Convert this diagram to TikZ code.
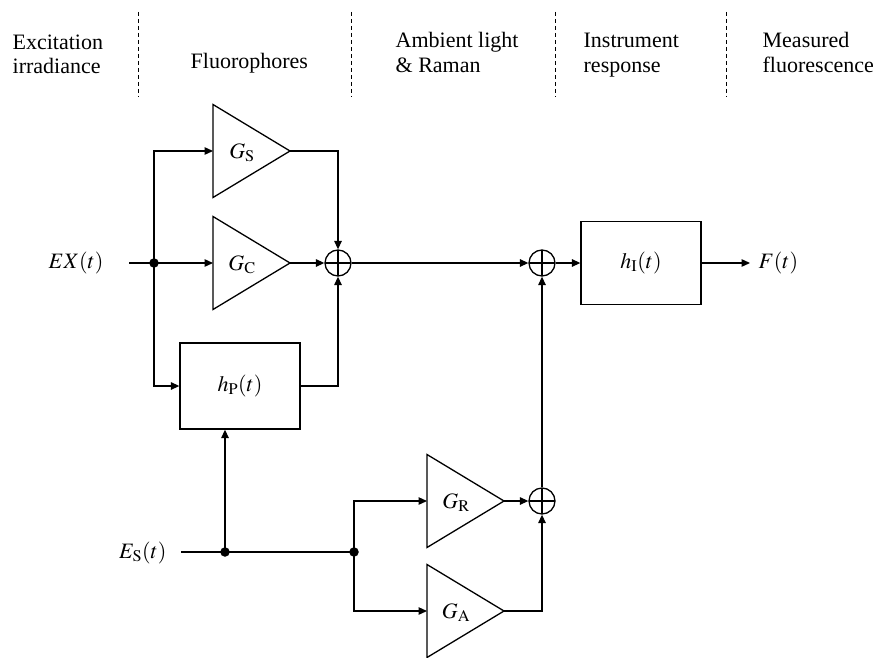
\documentclass[tikz,border=0pt]{standalone}
\usepackage{mathptmx}
\usepackage{fontspec}
\setmainfont{Liberation Serif}
\usetikzlibrary{arrows.meta,calc}
\newcommand{\gainblk}[4]{%
  \coordinate (#1in) at (#2,#3);
  \coordinate (#1out) at ($(#1in)+(77,0)$);
  \draw ($(#1in)+(0,-46.5)$) -- (#1out) -- ($(#1in)+(0,46.5)$) -- cycle;
  \node[lbl,anchor=base] (#1lab) at ($(#1in)+(29,7)$) {#4};
}
\begin{document}
\begin{tikzpicture}[x=1pt,y=-1pt,line width=1.3pt,
  >={Triangle[length=8.5pt,width=7.5pt]},
  font=\fontsize{22}{25}\selectfont,
  sumj/.style={circle,draw,minimum size=26pt,inner sep=0pt,
    path picture={\draw (path picture bounding box.north) -- (path picture bounding box.south)
      (path picture bounding box.west) -- (path picture bounding box.east);}},
  blk/.style={draw,minimum width=120pt,minimum height=85pt,inner sep=0pt},
  jdot/.style={circle,fill,inner sep=0pt,minimum size=9.5pt},
  lbl/.style={inner sep=0pt},
  hdr/.style={inner sep=0pt,anchor=base west},
  divider/.style={line width=0.9pt,dash pattern=on 4pt off 3pt}]
\useasboundingbox (0,0) rectangle (875,658);

% header
\draw[divider] (138,12) -- (138,97);
\draw[divider] (351,12) -- (351,97);
\draw[divider] (555,12) -- (555,97);
\draw[divider] (726,12) -- (726,97);
\node[hdr] (h1a) at (12,50) {Excitation};
\node[hdr] (h1b) at (12,74) {irradiance};
\node[hdr] (h2) at (190,69) {Fluorophores};
\node[hdr] (h3a) at (395,48) {Ambient light};
\node[hdr] (h3b) at (395,73) {\& Raman};
\node[hdr] (h4a) at (583,48) {Instrument};
\node[hdr] (h4b) at (583,73) {response};
\node[hdr] (h5a) at (762,48) {Measured};
\node[hdr] (h5b) at (762,73) {fluorescence};

% gain blocks
\gainblk{GS}{213}{151}{$G_{\mathrm{S}}$}
\gainblk{GC}{213}{263}{$G_{\mathrm{C}}$}
\gainblk{GR}{427}{501}{$G_{\mathrm{R}}$}
\gainblk{GA}{427}{611}{$G_{\mathrm{A}}$}

% summing junctions
\node[sumj] (S1) at (338,263) {};
\node[sumj] (S2) at (542,263) {};
\node[sumj] (S3) at (542,501) {};

% blocks
\node[blk,minimum height=86pt] (hP) at (240,386) {$h_{\mathrm{P}}(t)$};
\node[blk,minimum height=83pt] (hI) at (641,263) {$h_{\mathrm{I}}(t)$};

% inputs / outputs
\node[lbl,anchor=east] (EX) at (104,263) {$EX(t)$};
\coordinate (EXa) at (129,263);
\node[lbl,anchor=east] (ES) at (167,553) {$E_{\mathrm{S}}(t)$};
\coordinate (ESa) at (181,552);
\node[lbl,anchor=west] (F) at (758,263) {$F(t)$};
\coordinate (Fa) at (750,263);

% junction dots
\node[jdot] (J1) at (154,263) {};
\node[jdot] (J2) at (225,552) {};
\node[jdot] (J3) at (354,552) {};

% connectors
\draw[->] (EXa) -- (GCin);
\draw[->] (J1.center) |- (GSin);
\draw[->] (J1.center) |- (hP.west);
\draw[->] (GSout) -| (S1.north);
\draw[->] (GCout) -- (S1.west);
\draw[->] (hP.east) -| (S1.south);
\draw[->] (S1.east) -- (S2.west);
\draw[->] (S2.east) -- (hI.west);
\draw[->] (hI.east) -- (Fa);
\draw (ESa) -- (J3.center);
\draw[->] (J2.center) -- (J2 |- hP.south);
\draw[->] (J3.center) |- (GRin);
\draw[->] (J3.center) |- (GAin);
\draw[->] (GRout) -- (S3.west);
\draw[->] (GAout) -| (S3.south);
\draw[->] (S3.north) -- (S2.south);
\end{tikzpicture}
\end{document}
